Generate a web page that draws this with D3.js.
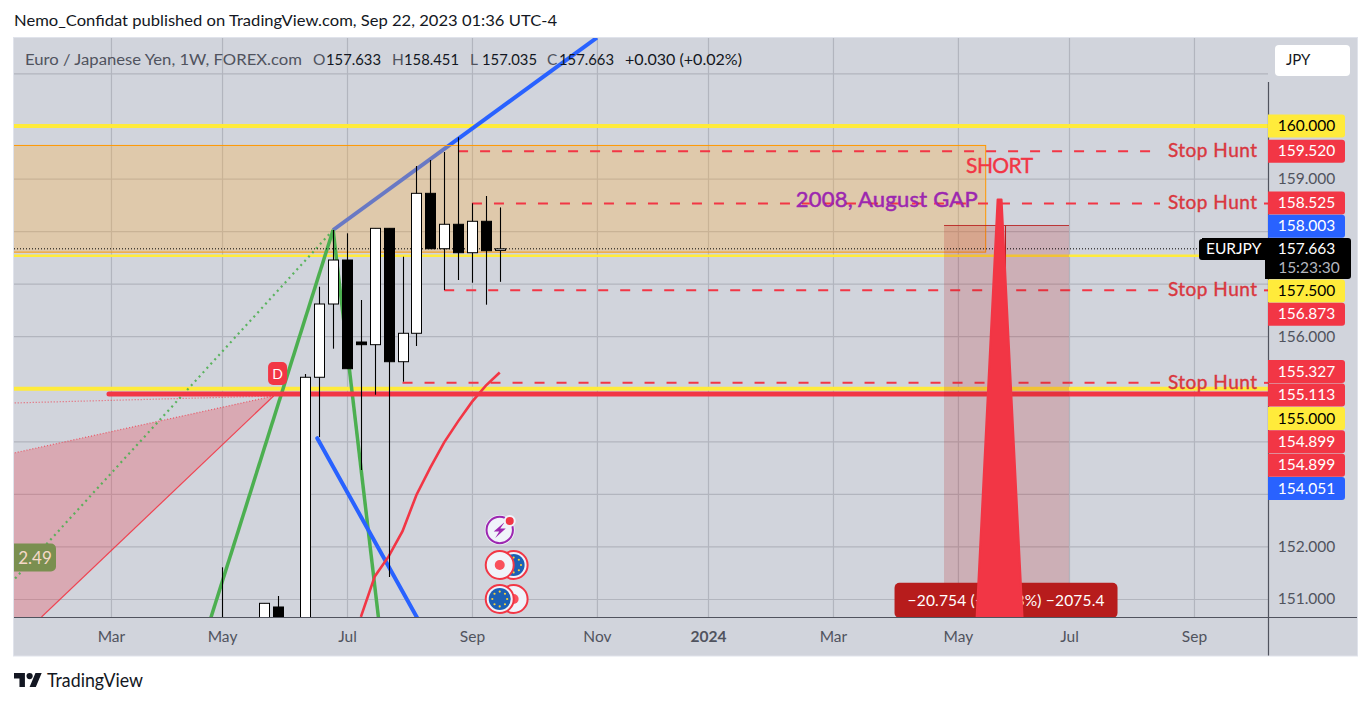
<!DOCTYPE html>
<html><head><meta charset="utf-8">
<script src="https://cdn.jsdelivr.net/npm/d3@7/dist/d3.min.js"></script>
<style>
html,body{margin:0;padding:0;background:#fff;overflow:hidden}
svg{display:block}
text{font-family:Lato,"Noto Sans",sans-serif}
</style></head><body>
<svg id="c" width="1370" height="704"></svg>
<script>
const D = s => new Date(s + "T00:00:00Z");

// ---- data ----
const candleDates = ["2023-05-01","2023-05-22","2023-05-29","2023-06-12","2023-06-19","2023-06-26","2023-07-03","2023-07-10","2023-07-17","2023-07-24","2023-07-31","2023-08-07","2023-08-14","2023-08-21","2023-08-28","2023-09-04","2023-09-11","2023-09-18"];
const openValues  = [150.0,150.3,150.848,150.3,155.219,156.613,157.45,155.89,155.839,158.053,155.515,156.056,158.719,157.665,158.13,157.589,158.187,157.633];
const highValues  = [151.603,150.918,151.057,155.281,156.942,158.021,157.958,156.689,158.053,158.053,157.513,159.239,159.353,159.505,159.785,158.529,158.668,158.451];
const lowValues   = [149.5,150.2,150.2,150.2,154.08,155.763,155.382,153.455,154.887,151.419,155.135,155.814,157.665,156.88,157.07,157.018,156.6,157.035];
const closeValues = [149.9,150.918,150.3,155.219,156.613,157.45,155.382,155.839,158.053,155.515,156.056,158.719,157.665,158.13,157.589,158.187,157.627,157.663];

const maDates  = ["2023-07-10","2023-07-17","2023-07-24","2023-07-31","2023-08-07","2023-08-14","2023-08-21","2023-08-28","2023-09-04","2023-09-11","2023-09-18"];
const maValues = [150.66,151.43,151.81,152.29,152.98,153.5,153.98,154.38,154.75,155.06,155.31];

const timeTickDates  = ["2023-03-06","2023-05-01","2023-07-03","2023-09-04","2023-11-06","2024-01-01","2024-03-04","2024-05-06","2024-07-01","2024-09-02"];
const timeTickLabels = ["Mar","May","Jul","Sep","Nov","2024","Mar","May","Jul","Sep"];
const gridPrices = [151,152,153,154,155,156,157,158,159,160,161];
const priceTickLabels = [151,152,156,159];

const levelLabelValues = [160,159.52,158.525,158.003,157.5,156.873,155.327,155.113,155,154.899,154.899,154.051];
const levelLabelKinds  = ["y","r","r","b","y","r","r","r","y","r","r","b"];
const lastPrice = 157.663;

const yellowLevels = [160,157.53,155];
const stopHuntPrices = [159.52,158.525,156.873,155.113];
const stopHuntStarts = ["2023-08-28","2023-09-04","2023-08-21","2023-07-31"];

const legendOHLC = [["O","157.633"],["H","158.451"],["L","157.035"],["C","157.663"]];

// ---- scales ----
const paneL=14, paneR=1268, paneT=38, paneB=617, outerR=1357, outerB=655.5;
const x = d3.scaleUtc().domain([D("2023-07-03"),D("2024-07-01")]).range([347,1069]);
const y = d3.scaleLinear().domain([160,151]).range([126,599]);
const X = s => x(D(s));
const pt = (s,p) => [X(s),y(p)];

const COL={red:"#f23645",yellow:"#ffeb3b",blue:"#2962ff",green:"#4caf50",orange:"#ff9800",axis:"#50535e",grid:"#b2b5be",bg:"#d1d4dc",ink:"#131722",dark:"#b71c1c"};
const svg=d3.select("#c");
const F = "Lato,'Noto Sans',sans-serif";

// page text
svg.append("text").attr("x",14).attr("y",26).attr("font-size",16).attr("fill",COL.ink)
  .attr("textLength",543).attr("lengthAdjust","spacingAndGlyphs")
  .text("Nemo_Confidat published on TradingView.com, Sep 22, 2023 01:36 UTC-4");

// pane
svg.append("rect").attr("x",paneL-.5).attr("y",paneT-.5).attr("width",outerR-paneL+1).attr("height",outerB-paneT+1)
  .attr("fill",COL.bg).attr("stroke","#e0e3eb");
svg.append("defs").append("clipPath").attr("id","pane").append("rect")
  .attr("x",paneL).attr("y",paneT).attr("width",paneR-paneL).attr("height",paneB-paneT);
const g=svg.append("g").attr("clip-path","url(#pane)");

// grid through axes
const gx=g.append("g").attr("transform",`translate(0,${paneB})`)
  .call(d3.axisTop(x).tickValues(timeTickDates.map(D)).tickSize(paneB-paneT).tickFormat(""));
const gy=g.append("g").attr("transform",`translate(${paneL},0)`)
  .call(d3.axisRight(y).tickValues(gridPrices).tickSize(paneR-paneL).tickFormat(""));
[gx,gy].forEach(a=>{a.select(".domain").remove();a.selectAll("line").attr("stroke",COL.grid).attr("stroke-width",1.2);});

const line=d3.line();
const seg=(a,b,c,w,extra)=>{const l=g.append("path").attr("d",line([a,b])).attr("fill","none").attr("stroke",c).attr("stroke-width",w);if(extra)extra(l);return l;};

// wedge (left, red)
const apex=pt("2023-05-27",154.863);
g.append("path").attr("d",line([apex,pt("2023-01-16",153.778),pt("2023-01-16",150.6),pt("2023-01-30",150.658)])+"Z")
  .attr("fill",COL.red).attr("opacity",.27);
seg(apex,pt("2023-01-16",153.778),COL.red,1.2,l=>l.attr("stroke-dasharray","1 2").attr("opacity",.75));
seg(apex,pt("2023-01-16",154.73),COL.red,1.2,l=>l.attr("stroke-dasharray","1 2").attr("opacity",.75));
seg(apex,pt("2023-01-30",150.658),COL.red,1.2,l=>l.attr("opacity",.9));

// yellow levels
g.selectAll(".yl").data(yellowLevels).join("line").attr("x1",paneL).attr("x2",paneR)
  .attr("y1",d=>y(d)).attr("y2",d=>y(d)).attr("stroke",COL.yellow).attr("stroke-width",(d,i)=>i==1?2.5:4);

// blue trend under the box
seg(pt("2023-06-26",158.021),pt("2023-11-06",161.68),COL.blue,4);

// gap box
g.append("rect").attr("x",paneL-2).attr("y",y(159.63)).attr("width",X("2024-05-20")-paneL+2).attr("height",y(157.6)-y(159.63))
  .attr("fill","#ffb03c").attr("fill-opacity",.3).attr("stroke",COL.orange).attr("stroke-width",1);

// green lines
seg(pt("2023-06-26",158.021),pt("2023-04-25",150.6),COL.green,3.5);
seg(pt("2023-06-26",158.021),pt("2023-07-19",150.6),COL.green,3.5);
seg(pt("2023-06-26",158.021),pt("2023-01-16",151.362),COL.green,2.2,l=>l.attr("stroke-dasharray","2 3.8").attr("opacity",.9));

// thick red + blue down + MA
g.append("line").attr("x1",X("2023-03-05")).attr("x2",paneR+10).attr("y1",y(154.899)).attr("y2",y(154.899))
  .attr("stroke",COL.red).attr("stroke-width",5).attr("stroke-linecap","round");
seg(pt("2023-06-18",154.06),pt("2023-08-08",150.6),COL.blue,4,l=>l.attr("stroke-linecap","round"));
g.append("path").attr("d",d3.line().x(d=>X(d[0])).y(d=>y(d[1]))(d3.zip(maDates,maValues)))
  .attr("fill","none").attr("stroke",COL.red).attr("stroke-width",2.6);

// dashed stop hunt lines
const huntEnd=paneR-108, huntRestart=paneR-4;
stopHuntPrices.forEach((p,i)=>{
  g.append("line").attr("x1",X(stopHuntStarts[i])).attr("x2",huntEnd).attr("y1",y(p)).attr("y2",y(p))
   .attr("stroke",COL.red).attr("stroke-width",2).attr("stroke-dasharray","10 12");
  g.append("line").attr("x1",huntRestart).attr("x2",paneR).attr("y1",y(p)).attr("y2",y(p))
   .attr("stroke",COL.red).attr("stroke-width",2).attr("opacity",i==0?0:1);
  g.append("text").attr("x",paneR-11).attr("y",y(p)).attr("dy",".3em").attr("text-anchor","end")
   .attr("font-size",19).attr("fill","#d9373f").attr("stroke","#d9373f").attr("stroke-width",.4)
   .attr("textLength",89).attr("lengthAdjust","spacing").text("Stop Hunt");
});

// position box
const posTop=158.107, posL="2024-04-29", posR="2024-07-01";
g.append("rect").attr("x",X(posL)).attr("y",y(posTop)).attr("width",X(posR)-X(posL)).attr("height",paneB-y(posTop))
  .attr("fill",COL.dark).attr("fill-opacity",.2);
g.append("line").attr("x1",X(posL)).attr("x2",X(posR)).attr("y1",y(posTop)).attr("y2",y(posTop)).attr("stroke",COL.dark).attr("stroke-opacity",.85);
g.append("line").attr("x1",X("2024-05-30")).attr("x2",X("2024-05-30")).attr("y1",y(posTop)).attr("y2",paneB).attr("stroke",COL.dark);

// last price dotted
g.append("line").attr("x1",paneL).attr("x2",paneR).attr("y1",y(lastPrice)).attr("y2",y(lastPrice))
  .attr("stroke","#000").attr("stroke-width",1).attr("stroke-dasharray","1 2");

// candles
const cw=10;
const cd=candleDates.map((d,i)=>({x:X(d),o:openValues[i],h:highValues[i],l:lowValues[i],c:closeValues[i]}));
const cg=g.append("g");
cg.selectAll(".wick").data(cd).join("line").attr("x1",d=>Math.round(d.x)+.5).attr("x2",d=>Math.round(d.x)+.5)
  .attr("y1",d=>y(d.h)).attr("y2",d=>y(d.l)).attr("stroke","#000").attr("stroke-width",1.1);
cg.selectAll(".body").data(cd).join("rect").attr("x",d=>Math.round(d.x)-cw/2+.5).attr("width",cw)
  .attr("y",d=>y(Math.max(d.o,d.c))).attr("height",d=>Math.max(1,Math.abs(y(d.o)-y(d.c))))
  .attr("fill",d=>d.c>=d.o?"#fff":"#000").attr("stroke","#000").attr("stroke-width",1);

// annotation text
g.append("text").attr("x",X("2024-05-27")).attr("y",y(159.25)).attr("dy",".36em").attr("text-anchor","middle")
  .attr("font-size",21).attr("fill",COL.red).attr("stroke",COL.red).attr("stroke-width",.4).attr("textLength",67).text("SHORT");
g.append("text").attr("x",X("2024-05-20")-8).attr("y",y(158.6)).attr("dy",".36em").attr("text-anchor","end")
  .attr("font-size",22).attr("fill","#9c27b0").attr("stroke","#9c27b0").attr("stroke-width",.5)
  .attr("textLength",182).attr("lengthAdjust","spacing").text("2008, August GAP");

// position bubble
const bubMid=X("2024-05-30");
g.append("rect").attr("x",bubMid-111).attr("y",y(151.31)).attr("width",223).attr("height",paneB-y(151.31)+1).attr("rx",5)
  .attr("fill",COL.dark);
g.append("text").attr("x",bubMid-98).attr("y",y(150.98)).attr("dy",".36em")
  .attr("font-size",15.5).attr("fill","#fff").attr("textLength",197).attr("lengthAdjust","spacing").text("−20.754 (−13.13%) −2075.4");

// spike
const spikeD="2024-05-27";
g.append("path").attr("d",line([[X(spikeD)-2,y(158.6)],[X(spikeD)+2,y(158.6)],[X(spikeD)+23,paneB+1],[X(spikeD)-23,paneB+1]])+"Z")
  .attr("fill",COL.red).attr("stroke",COL.red).attr("stroke-width",2).attr("stroke-linejoin","round");

// badges
const dX=X("2023-05-29"), dY=y(155.29);
g.append("rect").attr("x",dX-9.5).attr("y",dY-11.5).attr("width",19).attr("height",23).attr("rx",5).attr("fill",COL.red);
g.append("text").attr("x",dX).attr("y",dY).attr("dy",".36em").attr("text-anchor","middle").attr("font-size",14).attr("fill","#fff").text("D");
const bY=y(151.79);
g.append("path").attr("d",`M${paneL},${bY-14}h37a5,5 0 0 1 5,5v18a5,5 0 0 1 -5,5h-37z`).attr("fill","#7a8f50");
g.append("text").attr("x",paneL+21).attr("y",bY).attr("dy",".36em").attr("text-anchor","middle").attr("font-size",17).attr("fill","#f6d9c8").text("2.49");

// event icons
const iconA="2023-09-18", iconB="2023-09-25";
const euFlag=(cx,cy)=>{
  g.append("circle").attr("cx",cx).attr("cy",cy).attr("r",14).attr("fill","#f0f3fa").attr("stroke",COL.red).attr("stroke-width",2);
  g.append("circle").attr("cx",cx).attr("cy",cy).attr("r",11).attr("fill","#1b60b5");
  d3.range(8).forEach(i=>g.append("circle").attr("cx",cx+7.4*Math.cos(i*Math.PI/4)).attr("cy",cy+7.4*Math.sin(i*Math.PI/4)).attr("r",1.1).attr("fill","#f7d23a"));
};
const redDot=(cx,cy)=>{
  g.append("circle").attr("cx",cx).attr("cy",cy).attr("r",14).attr("fill","#f0f3fa").attr("stroke",COL.red).attr("stroke-width",2);
  g.append("circle").attr("cx",cx).attr("cy",cy).attr("r",5).attr("fill","#f9505c");
};
euFlag(X(iconB),y(151.647)); redDot(X(iconA),y(151.647));
redDot(X(iconB),y(151)); euFlag(X(iconA),y(151));
const pc=[X(iconA),y(152.313)];
g.append("circle").attr("cx",pc[0]).attr("cy",pc[1]).attr("r",15).attr("fill","#f0f3fa");
g.append("circle").attr("cx",pc[0]).attr("cy",pc[1]).attr("r",13.2).attr("fill","none").attr("stroke","#9c27b0").attr("stroke-width",2);
g.append("path").attr("transform",`translate(${pc[0]},${pc[1]})`).attr("d","M5,-8L-6,1.5H-0.5L-4.5,8L6,-1.5H0.5Z").attr("fill","#9c27b0");
g.append("circle").attr("cx",pc[0]+10).attr("cy",pc[1]-9).attr("r",5).attr("fill",COL.red).attr("stroke","#f0f3fa").attr("stroke-width",2);

// legend
const legY=65;
svg.append("text").attr("x",25).attr("y",legY).attr("font-size",15.5).attr("fill",COL.axis)
  .attr("textLength",277).attr("lengthAdjust","spacingAndGlyphs").text("Euro / Japanese Yen, 1W, FOREX.com");
const legX=[313,392,470,547], legW=[326,404,482,559];
legendOHLC.forEach((d,i)=>{
  svg.append("text").attr("x",legX[i]).attr("y",legY).attr("font-size",15.5).attr("fill",COL.axis).text(d[0]);
  svg.append("text").attr("x",legW[i]).attr("y",legY).attr("font-size",15.5).attr("fill",COL.ink)
    .attr("textLength",55).attr("lengthAdjust","spacingAndGlyphs").text(d[1]);
});
svg.append("text").attr("x",625).attr("y",legY).attr("font-size",15.5).attr("fill",COL.ink)
  .attr("textLength",117).attr("lengthAdjust","spacingAndGlyphs").text("+0.030 (+0.02%)");

// axes frame
svg.append("line").attr("x1",paneL).attr("x2",outerR).attr("y1",paneB+.5).attr("y2",paneB+.5).attr("stroke",COL.axis).attr("stroke-width",1.2);
svg.append("line").attr("x1",paneR+.5).attr("x2",paneR+.5).attr("y1",82).attr("y2",outerB).attr("stroke",COL.axis).attr("stroke-width",1.2);

// time axis labels
const tAxis=svg.append("g").attr("transform",`translate(0,${paneB})`)
  .call(d3.axisBottom(x).tickValues(timeTickDates.map(D)).tickSize(0).tickPadding(0)
    .tickFormat((d,i)=>timeTickLabels[i]));
tAxis.select(".domain").remove();
tAxis.selectAll("text").attr("dy",0).attr("y",25).attr("font-size",15.5).attr("font-family",F).attr("fill",COL.axis)
  .attr("font-weight",(d,i)=>timeTickLabels[i]==="2024"?700:400);

// price axis labels
const pAxis=svg.append("g").attr("transform",`translate(${paneR},0)`)
  .call(d3.axisRight(y).tickValues(priceTickLabels).tickSize(0).tickPadding(0).tickFormat(d3.format(".3f")));
pAxis.select(".domain").remove();
pAxis.selectAll("text").attr("x",38.5).attr("text-anchor","middle").attr("font-size",15.5).attr("font-family",F).attr("fill",COL.axis);

// level labels: stacked around the pinned last-price tag
const gap=23.4, pinTop=238, pinBottom=279, labelH=23;
const labelYs=levelLabelValues.map(v=>y(v));
const firstBelow=levelLabelValues.findIndex(v=>v<lastPrice);
let prev=pinBottom-gap/2+.2;
for(let i=firstBelow;i<labelYs.length;i++){prev=Math.max(labelYs[i],prev+gap);labelYs[i]=prev;}
prev=pinTop+gap/2;
for(let i=firstBelow-1;i>=0;i--){prev=Math.min(labelYs[i],prev-gap);labelYs[i]=prev;}
const kindFill={y:COL.yellow,r:COL.red,b:COL.blue}, kindText={y:"#000",r:"#fff",b:"#fff"};
levelLabelValues.forEach((v,i)=>{
  const yy=labelYs[i], k=levelLabelKinds[i];
  svg.append("path").attr("d",`M${paneR},${yy-labelH/2}h74a3,3 0 0 1 3,3v${labelH-6}a3,3 0 0 1 -3,3h-74z`).attr("fill",kindFill[k]);
  svg.append("text").attr("x",paneR+38.5).attr("y",yy).attr("dy",".33em").attr("text-anchor","middle")
    .attr("font-size",15.5).attr("fill",kindText[k]).text(d3.format(".3f")(v));
});

// last price tag
const lastY=y(lastPrice);
svg.append("path").attr("d",`M${paneR-66},${pinTop}h146a3,3 0 0 1 3,3v${pinBottom-pinTop-6}a3,3 0 0 1 -3,3h-83v-19h-63a3,3 0 0 1 -3,-3v-15a3,3 0 0 1 3,-3z`).attr("fill","#000");
svg.append("text").attr("x",paneR-62).attr("y",lastY).attr("dy",".33em").attr("font-size",15.5).attr("fill","#fff").text("EURJPY");
svg.append("text").attr("x",paneR+38.5).attr("y",lastY).attr("dy",".33em").attr("text-anchor","middle").attr("font-size",15.5).attr("fill","#fff").text(d3.format(".3f")(lastPrice));
svg.append("text").attr("x",paneR+41).attr("y",lastY+19).attr("dy",".33em").attr("text-anchor","middle").attr("font-size",15.5).attr("fill","#b2b5be").text("15:23:30");

// JPY button
svg.append("rect").attr("x",1275).attr("y",45).attr("width",75).attr("height",31).attr("rx",4).attr("fill","#fff");
svg.append("text").attr("x",1286).attr("y",60).attr("dy",".36em").attr("font-size",15).attr("fill",COL.ink).text("JPY");

// footer logo
const logo=svg.append("g").attr("transform","translate(14,673) scale(0.78)").attr("fill",COL.ink);
logo.append("path").attr("d","M14 18H7V7H0V0h14v18zM28 18h-8l7.5-18h8L28 18z");
logo.append("circle").attr("cx",20).attr("cy",4).attr("r",4);
svg.append("text").attr("x",47).attr("y",687).attr("font-size",18.5).attr("fill",COL.ink)
  .attr("textLength",96).attr("lengthAdjust","spacingAndGlyphs").text("TradingView");
</script>
</body></html>
